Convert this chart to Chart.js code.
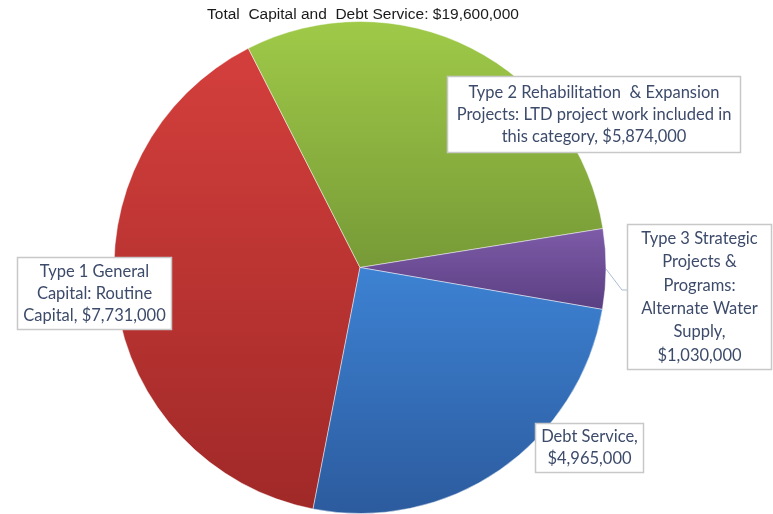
<!DOCTYPE html>
<html>
<head>
<meta charset="utf-8">
<script src="https://cdn.jsdelivr.net/npm/chart.js@4.4.1/dist/chart.umd.min.js"></script>
<style>
  html, body { margin: 0; padding: 0; background: #fff; }
  #wrap { width: 773px; height: 514px; }
</style>
</head>
<body>
<div id="wrap"><canvas id="pieChart" width="773" height="514"></canvas></div>
<script>
const titleText = 'Total  Capital and  Debt Service: $19,600,000';
const categories = [
    ['Type 1 General', 'Capital: Routine', 'Capital, $7,731,000'],
    ['Type 2 Rehabilitation  & Expansion', 'Projects: LTD project work included in', 'this category, $5,874,000'],
    ['Type 3 Strategic', 'Projects &', 'Programs:', 'Alternate Water', 'Supply,', '$1,030,000'],
    ['Debt Service,', '$4,965,000']
];
const values = [7731000, 5874000, 1030000, 4965000];
const topColors = ['#d43f3c', '#9fca48', '#7e5ba8', '#3d82d3'];
const bottomColors = ['#a02928', '#779a37', '#5a3f82', '#2c5b9e'];

// label box placement (x, y, w, h) in canvas px, same order as categories
const boxes = [
    { x: 17, y: 257, w: 155, h: 73 },
    { x: 447, y: 76, w: 294, h: 77 },
    { x: 627, y: 224, w: 145, h: 146 },
    { x: 535, y: 423, w: 109, h: 50 }
];

const gradientFill = {
    id: 'gradientFill',
    beforeDatasetsDraw(chart) {
        const ctx = chart.ctx;
        chart.getDatasetMeta(0).data.forEach((arc, i) => {
            const p = arc.getProps(['x', 'y', 'startAngle', 'endAngle', 'outerRadius']);
            let ymin = p.y, ymax = p.y;
            for (let k = 0; k <= 40; k++) {
                const a = p.startAngle + (p.endAngle - p.startAngle) * k / 40;
                const y = p.y + Math.sin(a) * p.outerRadius;
                ymin = Math.min(ymin, y);
                ymax = Math.max(ymax, y);
            }
            const g = ctx.createLinearGradient(0, ymin, 0, ymax);
            g.addColorStop(0, topColors[i]);
            g.addColorStop(1, bottomColors[i]);
            arc.options.backgroundColor = g;
        });
    }
};

const labelBoxes = {
    id: 'labelBoxes',
    afterDatasetsDraw(chart) {
        const ctx = chart.ctx;
        const arcs = chart.getDatasetMeta(0).data;
        ctx.save();

        // leader line for the small slice
        const a = arcs[2].getProps(['x', 'y', 'startAngle', 'endAngle', 'outerRadius']);
        const mid = (a.startAngle + a.endAngle) / 2;
        ctx.strokeStyle = '#a9bcd6';
        ctx.lineWidth = 1;
        ctx.beginPath();
        ctx.moveTo(a.x + Math.cos(mid) * a.outerRadius, a.y + Math.sin(mid) * a.outerRadius);
        ctx.lineTo(622, 290);
        ctx.lineTo(boxes[2].x, 290);
        ctx.stroke();

        ctx.font = '16.5px Lato';
        ctx.textAlign = 'center';
        ctx.textBaseline = 'middle';
        categories.forEach((lines, i) => {
            const b = boxes[i];
            ctx.fillStyle = '#ffffff';
            ctx.fillRect(b.x, b.y, b.w, b.h);
            ctx.strokeStyle = '#c8c8c8';
            ctx.lineWidth = 1.5;
            ctx.strokeRect(b.x + 0.5, b.y + 0.5, b.w - 1, b.h - 1);
            const lh = lines.length > 3 ? 23.4 : 22;
            const y0 = b.y + b.h / 2 - (lines.length - 1) * lh / 2;
            ctx.fillStyle = '#3d4b6b';
            lines.forEach((t, k) => ctx.fillText(t, b.x + b.w / 2, y0 + k * lh));
        });

        ctx.font = '15.5px "Liberation Sans"';
        ctx.fillStyle = '#1a1a1a';
        ctx.fillText(titleText, 363, 15);
        ctx.restore();
    }
};

new Chart(document.getElementById('pieChart').getContext('2d'), {
    type: 'pie',
    data: {
        labels: categories.map(l => l.join(' ')),
        datasets: [{
            data: values,
            backgroundColor: topColors,
            borderColor: 'rgba(255,255,255,0.45)',
            borderWidth: 1
        }]
    },
    options: {
        responsive: false,
        animation: false,
        rotation: -169,
        layout: { padding: { top: 21, bottom: 0, left: 0, right: 53 } },
        plugins: { legend: { display: false }, tooltip: { enabled: false } }
    },
    plugins: [gradientFill, labelBoxes]
});
</script>
</body>
</html>
